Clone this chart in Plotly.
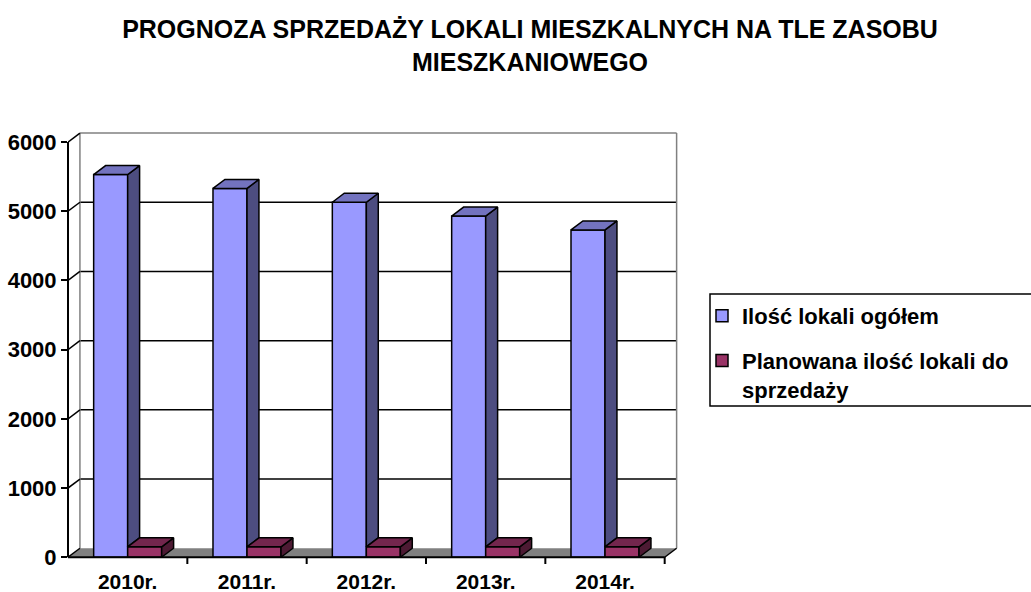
import plotly.graph_objects as go

# ---------------- data ----------------
categories = ["2010r.", "2011r.", "2012r.", "2013r.", "2014r."]
total_units = [5530, 5330, 5130, 4930, 4730]
planned_sale = [150, 150, 150, 150, 150]
series_names = ["Ilość lokali ogółem", "Planowana ilość lokali do<br>sprzedaży"]
y_ticks = [0, 1000, 2000, 3000, 4000, 5000, 6000]
title_text = "PROGNOZA SPRZEDAŻY LOKALI MIESZKALNYCH NA TLE ZASOBU<br>MIESZKANIOWEGO"

# ---------------- style ----------------
FONT = "Liberation Sans, Arial, sans-serif"
W = 0.285      # bar front width (category units)
DX = 0.1       # 3D depth along x (category units)
DY = 130       # 3D depth along y (value units)
YMAX = 6000
BLUE = dict(front="#9999FF", side="#4D4D80", top="#7373BF")
RED = dict(front="#993366", side="#4D1A33", top="#73264D")
EDGE = dict(color="black", width=1.5)

n = len(categories)
xs = list(range(n))


def polys(list_of_polys):
    px, py = [], []
    for poly in list_of_polys:
        for (a, b) in poly:
            px.append(a)
            py.append(b)
        px.append(poly[0][0])
        py.append(poly[0][1])
        px.append(None)
        py.append(None)
    return px, py


fig = go.Figure()

# front faces (real bars, used for legend)
fig.add_trace(go.Bar(x=xs, y=total_units, width=W, offset=-W, name=series_names[0],
                     marker=dict(color=BLUE["front"], line=EDGE), legendgroup="a",
                     hoverinfo="skip"))
fig.add_trace(go.Bar(x=xs, y=planned_sale, width=W, offset=0, name=series_names[1],
                     marker=dict(color=RED["front"], line=EDGE), legendgroup="b",
                     hoverinfo="skip"))

# side & top faces
blue_side = [[(c, r), (c + DX, r + DY), (c + DX, v + DY), (c, v)]
             for c, v, r in zip(xs, total_units, planned_sale)]
blue_top = [[(c - W, v), (c, v), (c + DX, v + DY), (c - W + DX, v + DY)]
            for c, v in zip(xs, total_units)]
red_side = [[(c + W, 0), (c + W + DX, DY), (c + W + DX, r + DY), (c + W, r)]
            for c, r in zip(xs, planned_sale)]
red_top = [[(c, r), (c + W, r), (c + W + DX, r + DY), (c + DX, r + DY)]
           for c, r in zip(xs, planned_sale)]

for faces, col in [(blue_side, BLUE["side"]), (blue_top, BLUE["top"]),
                   (red_side, RED["side"]), (red_top, RED["top"])]:
    px, py = polys(faces)
    fig.add_trace(go.Scatter(x=px, y=py, mode="lines", fill="toself", fillcolor=col,
                             line=EDGE, showlegend=False, hoverinfo="skip"))

# ---------------- frame (walls, floor, gridlines) ----------------
shapes = []
x_lo, x_hi = -0.5, n - 0.5
shapes.append(dict(type="path", xref="x", yref="y", layer="below",
                   path=f"M{x_lo},0 L{x_hi},0 L{x_hi+DX},{DY} L{x_lo+DX},{DY} Z",
                   fillcolor="#808080", line=dict(width=0)))
for t in y_ticks[1:-1]:
    shapes.append(dict(type="line", xref="x", yref="y", layer="below",
                       x0=x_lo + DX, x1=x_hi + DX, y0=t + DY, y1=t + DY,
                       line=dict(color="black", width=1.5)))
shapes.append(dict(type="line", xref="x", yref="y", layer="below",
                   x0=x_lo + DX, x1=x_hi + DX, y0=YMAX + DY, y1=YMAX + DY,
                   line=dict(color="#808080", width=1.5)))
for xv in (x_lo + DX, x_hi + DX):
    shapes.append(dict(type="line", xref="x", yref="y", layer="below",
                       x0=xv, x1=xv, y0=DY, y1=YMAX + DY,
                       line=dict(color="#808080", width=1.5)))
for t in y_ticks:
    shapes.append(dict(type="line", xref="x", yref="y", layer="below",
                       x0=x_lo, x1=x_lo + DX, y0=t, y1=t + DY,
                       line=dict(color="black", width=1.5)))
shapes.append(dict(type="line", xref="paper", yref="y", x0=0, x1=0, y0=0, y1=YMAX,
                   line=dict(color="black", width=2)))
shapes.append(dict(type="line", xref="x", yref="y", x0=x_lo, x1=x_hi, y0=0, y1=0,
                   line=dict(color="black", width=2)))
shapes.append(dict(type="line", xref="x", yref="y", x0=x_hi, x1=x_hi + DX, y0=0, y1=DY,
                   line=dict(color="black", width=1.5)))
for k in range(1, n + 1):
    shapes.append(dict(type="line", xref="x", yref="paper", xsizemode="scaled",
                       ysizemode="pixel", yanchor=0, x0=k - 0.5, x1=k - 0.5, y0=3, y1=-4,
                       line=dict(color="black", width=2)))
shapes.append(dict(type="rect", xref="paper", yref="paper",
                   x0=(710 - 68) / 611, x1=1.6, y0=(560 - 406) / 429, y1=(560 - 294) / 429,
                   line=dict(color="black", width=1.5), fillcolor="rgba(0,0,0,0)"))

fig.update_layout(
    width=1031, height=592,
    margin=dict(l=68, r=352, t=131, b=32, autoexpand=False),
    paper_bgcolor="white", plot_bgcolor="white",
    barmode="overlay",
    shapes=shapes,
    font=dict(family=FONT, color="black"),
    title=dict(text=title_text, x=530 / 1031, xanchor="center", xref="container",
               y=1 - 38 / 592, yanchor="top", yref="container",
               font=dict(family=FONT, size=25, color="black", weight="bold")),
    xaxis=dict(range=[x_lo, x_hi + DX + 0.02], tickvals=xs, ticktext=categories,
               ticks="", showgrid=False, zeroline=False, showline=False,
               ticklabelstandoff=7,
               tickfont=dict(family=FONT, size=21, color="black", weight="bold")),
    yaxis=dict(range=[-40, 6160], tickvals=y_ticks, ticks="outside", ticklen=6,
               tickwidth=2, tickcolor="black", showgrid=False, zeroline=False,
               showline=False,
               tickfont=dict(family=FONT, size=22, color="black", weight="bold")),
    legend=dict(x=(702 - 68) / 611, y=(560 - 295) / 429, xanchor="left", yanchor="top",
                bgcolor="rgba(0,0,0,0)", borderwidth=0, valign="top",
                tracegroupgap=13, traceorder="grouped",
                font=dict(family=FONT, size=22, color="black", weight="bold")),
    showlegend=True,
)

fig.write_html("out.html")
